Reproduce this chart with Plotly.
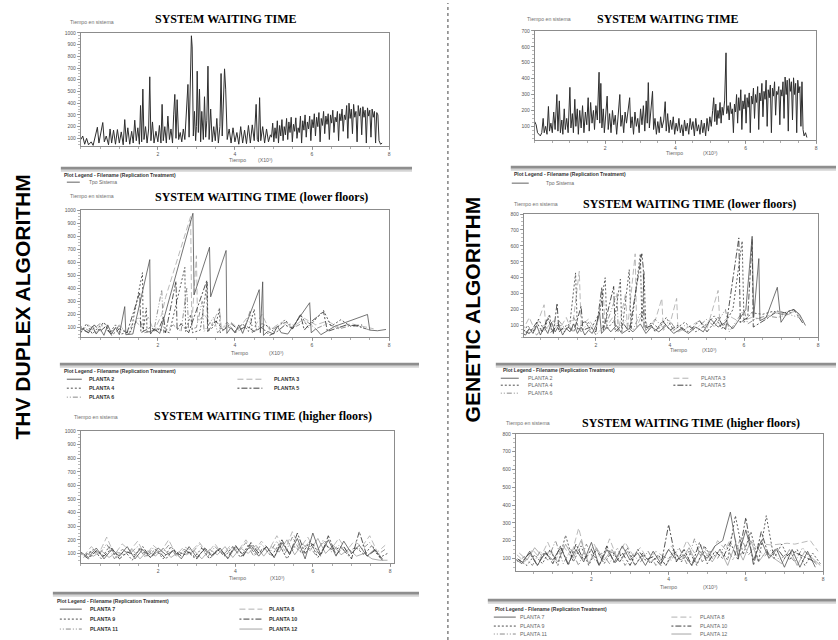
import plotly.graph_objects as go

W, H = 838, 640

# ---------------- DATA (x in thousands of time units, y = Tiempo en sistema) ----------------
THV_SYS = [(0.0,90),(0.05,120),(0.1,50),(0.15,100),(0.2,45),(0.27,70),(0.32,40),(0.38,140),(0.43,195),(0.47,60),
 (0.52,160),(0.57,235),(0.61,70),(0.66,120),(0.72,45),(0.76,180),(0.8,60),(0.85,170),(0.9,50),(0.95,175),
 (1.0,60),(1.05,155),(1.1,45),(1.14,260),(1.18,70),(1.22,190),(1.27,50),(1.32,160),(1.36,60),(1.4,255),
 (1.44,80),(1.48,190),(1.52,50),(1.55,380),(1.58,70),(1.61,520),(1.64,90),(1.68,200),(1.72,60),(1.76,180),
 (1.79,625),(1.82,80),(1.86,240),(1.9,60),(1.95,160),(2.0,70),(2.04,210),(2.08,60),(2.11,390),(2.14,80),
 (2.18,200),(2.22,60),(2.26,290),(2.3,90),(2.34,180),(2.38,60),(2.41,300),(2.44,475),(2.47,100),(2.5,430),
 (2.54,90),(2.58,150),(2.62,70),(2.66,180),(2.7,90),(2.78,560),(2.81,110),(2.87,975),(2.89,880),(2.92,120),
 (2.95,330),(2.98,80),(3.0,200),(3.02,673),(3.05,150),(3.08,520),(3.11,70),(3.14,330),(3.18,90),(3.21,455),
 (3.24,110),(3.27,250),(3.3,716),(3.33,90),(3.37,350),(3.41,70),(3.45,200),(3.49,80),(3.53,270),(3.57,60),
 (3.61,200),(3.64,653),(3.67,120),(3.73,693),(3.76,520),(3.8,90),(3.85,180),(3.9,60),(3.95,190),(4.0,70),
 (4.05,150),(4.1,50),(4.15,200),(4.2,60),(4.25,170),(4.3,55),(4.35,210),(4.4,60),(4.45,215),(4.5,80),
 (4.55,390),(4.58,90),(4.61,70),(4.64,447),(4.67,80),(4.72,200),(4.77,60),(4.82,180),(4.87,70),(4.92,130),
 (4.95,110),(4.98,230),(5.01,70),(5.04,190),(5.07,100),(5.1,250),(5.13,60),(5.16,210),(5.19,120),(5.22,260),
 (5.25,80),(5.28,200),(5.31,130),(5.34,270),(5.37,90),(5.4,240),(5.43,150),(5.46,280),(5.49,70),(5.52,220),
 (5.55,160),(5.58,275),(5.61,100),(5.64,190),(5.67,150),(5.7,290),(5.73,60),(5.76,250),(5.79,170),(5.82,300),
 (5.85,110),(5.88,240),(5.91,180),(5.94,290),(5.97,80),(6.0,260),(6.03,190),(6.06,310),(6.09,120),(6.12,280),
 (6.15,200),(6.18,320),(6.21,70),(6.24,270),(6.27,210),(6.3,330),(6.33,140),(6.36,290),(6.39,220),(6.42,310),
 (6.45,90),(6.48,300),(6.51,230),(6.54,340),(6.57,150),(6.6,280),(6.63,240),(6.66,330),(6.69,80),(6.72,310),
 (6.75,250),(6.78,350),(6.81,160),(6.84,300),(6.87,260),(6.9,380),(6.93,100),(6.96,400),(6.99,270),(7.02,350),
 (7.05,140),(7.08,390),(7.11,280),(7.14,330),(7.17,70),(7.2,380),(7.23,290),(7.26,360),(7.29,130),(7.32,370),
 (7.35,280),(7.38,340),(7.41,60),(7.44,360),(7.47,290),(7.5,340),(7.53,110),(7.56,350),(7.59,280),(7.62,330),
 (7.65,60),(7.68,320),(7.71,300),(7.74,80),(7.78,50),(7.82,60)]

GA_SYS = [(0.0,130),(0.04,110),(0.08,60),(0.12,50),(0.16,40),(0.2,60),(0.24,150),(0.27,60),(0.31,100),(0.35,50),
 (0.39,225),(0.42,70),(0.46,120),(0.5,60),(0.54,190),(0.58,80),(0.63,300),(0.66,70),(0.7,260),(0.73,60),
 (0.77,140),(0.8,50),(0.84,210),(0.87,80),(0.91,150),(0.95,60),(1.0,345),(1.03,90),(1.07,180),(1.1,60),
 (1.14,270),(1.17,100),(1.21,210),(1.24,50),(1.28,200),(1.32,90),(1.36,230),(1.4,60),(1.44,190),(1.48,110),
 (1.52,280),(1.55,70),(1.59,250),(1.63,120),(1.67,200),(1.7,80),(1.74,230),(1.78,140),(1.83,440),(1.85,120),
 (1.88,370),(1.91,90),(1.95,210),(1.98,60),(2.02,160),(2.06,290),(2.09,80),(2.13,180),(2.17,60),(2.21,200),
 (2.25,110),(2.29,170),(2.33,50),(2.38,230),(2.42,300),(2.45,100),(2.49,170),(2.53,60),(2.57,190),(2.61,120),
 (2.66,220),(2.7,280),(2.73,90),(2.77,160),(2.81,50),(2.85,190),(2.89,100),(2.93,150),(2.97,60),(3.01,210),
 (3.05,110),(3.09,230),(3.13,70),(3.17,260),(3.2,120),(3.23,375),(3.26,90),(3.3,200),(3.35,320),(3.38,80),
 (3.42,150),(3.46,50),(3.5,130),(3.54,60),(3.58,160),(3.62,90),(3.67,140),(3.71,255),(3.74,70),(3.78,180),
 (3.82,60),(3.86,140),(3.9,80),(3.94,160),(3.98,50),(4.02,120),(4.06,70),(4.1,150),(4.14,60),(4.18,110),
 (4.22,40),(4.26,140),(4.3,70),(4.34,120),(4.38,50),(4.42,150),(4.46,80),(4.5,130),(4.54,40),(4.58,150),
 (4.62,70),(4.66,110),(4.7,50),(4.74,140),(4.78,60),(4.82,120),(4.86,40),(4.9,150),(4.94,70),(4.98,160),
 (5.02,100),(5.06,200),(5.09,280),(5.12,130),(5.15,240),(5.18,110),(5.21,200),(5.24,150),(5.27,250),(5.3,120),
 (5.33,220),(5.36,170),(5.4,260),(5.44,562),(5.46,180),(5.5,230),(5.53,140),(5.56,250),(5.59,180),(5.62,210),
 (5.65,60),(5.68,240),(5.71,190),(5.74,300),(5.77,120),(5.8,280),(5.83,200),(5.86,330),(5.89,80),(5.92,260),
 (5.95,210),(5.98,300),(6.01,120),(6.04,280),(6.07,220),(6.1,310),(6.13,60),(6.16,290),(6.19,240),(6.22,340),
 (6.25,150),(6.28,300),(6.31,250),(6.34,350),(6.37,80),(6.4,310),(6.43,260),(6.46,370),(6.49,160),(6.52,320),
 (6.55,270),(6.58,390),(6.61,100),(6.64,330),(6.67,280),(6.7,360),(6.73,60),(6.76,340),(6.79,290),(6.82,380),
 (6.85,170),(6.88,320),(6.91,300),(6.94,350),(6.97,110),(7.0,330),(7.03,290),(7.06,380),(7.09,150),(7.12,410),
 (7.15,300),(7.18,390),(7.21,70),(7.24,400),(7.27,320),(7.3,380),(7.33,140),(7.36,405),(7.39,300),(7.42,370),
 (7.45,60),(7.48,390),(7.51,310),(7.54,350),(7.57,100),(7.6,380),(7.63,80),(7.66,40),(7.7,60),(7.74,30)]

# THV lower floors (PLANTA 2..6)
THV_P2 = [(0.0,100),(0.1,80),(0.2,60),(0.3,110),(0.4,50),(0.5,90),(0.6,40),(0.7,120),(0.8,50),(0.9,100),(1.0,45),
 (1.14,260),(1.17,45),(1.35,50),(1.79,620),(1.81,50),(1.9,90),(2.05,55),(2.91,975),(2.94,350),(3.34,715),(3.37,335),
 (3.77,690),(3.79,55),(3.9,100),(4.0,60),(4.1,120),(4.2,55),(4.63,390),(4.66,60),(4.72,450),(4.74,40),(4.85,70),
 (5.0,50),(5.1,110),(5.2,60),(5.37,50),(5.94,290),(5.98,60),(6.1,90),(6.23,45),(6.6,110),(7.0,150),(7.44,200),
 (7.5,80),(7.7,75),(7.92,85)]
THV_P3 = [(0.0,70),(0.2,120),(0.4,60),(0.6,140),(0.8,70),(1.0,120),(1.2,60),(1.4,150),(1.6,100),(1.75,180),(1.9,70),
 (2.1,200),(2.2,330),(2.85,950),(2.88,120),(3.0,650),(3.03,140),(3.2,200),(3.4,120),(3.6,250),(3.65,90),(3.9,140),
 (4.1,90),(4.3,170),(4.5,100),(4.7,200),(4.9,80),(5.2,140),(5.5,100),(5.8,170),(6.1,120),(6.4,150),(6.7,100),
 (7.0,130),(7.3,110),(7.6,90)]
THV_P4 = [(0.0,60),(0.15,130),(0.3,50),(0.45,100),(0.6,140),(0.75,60),(0.9,120),(1.05,50),(1.3,70),(1.6,520),(1.62,80),
 (1.7,250),(1.72,60),(2.0,90),(2.3,60),(2.7,560),(2.72,70),(2.85,200),(2.9,60),(3.1,80),(3.28,450),(3.3,70),(3.5,120),
 (3.6,240),(3.62,60),(3.8,110),(4.0,70),(4.2,130),(4.35,70),(4.5,240),(4.55,80),(4.8,120),(5.0,70),(5.3,160),(5.5,90),
 (5.7,200),(5.9,100),(6.3,230),(6.5,110),(6.75,160),(7.0,110),(7.3,120)]
THV_P5 = [(0.0,90),(0.2,60),(0.35,120),(0.5,70),(0.65,110),(0.8,40),(1.0,90),(1.2,60),(1.53,370),(1.56,60),(1.8,100),
 (2.0,70),(2.15,180),(2.2,60),(2.47,455),(2.5,80),(2.6,130),(2.8,60),(3.27,460),(3.29,70),(3.5,150),(3.7,80),(3.9,130),
 (4.1,80),(4.3,110),(4.5,70),(4.7,100),(4.9,40),(5.1,70),(5.3,120),(5.5,90),(5.7,200),(5.8,80),(6.0,150),(6.3,220),
 (6.4,70),(6.6,90),(6.9,120),(7.2,110),(7.4,90)]
THV_P6 = [(0.0,110),(0.25,70),(0.5,130),(0.75,60),(1.0,110),(1.25,50),(1.5,180),(1.65,60),(1.9,80),(2.1,390),(2.15,60),
 (2.4,120),(2.6,70),(2.75,400),(2.8,80),(3.0,100),(3.15,300),(3.2,70),(3.45,180),(3.55,60),(3.8,140),(4.0,60),(4.25,100),
 (4.4,230),(4.45,60),(4.7,130),(5.0,90),(5.3,140),(5.6,110),(5.85,150),(6.1,90),(6.4,130),(6.7,90),(7.1,120),(7.5,80)]

# GA lower floors (PLANTA 2..6)
GA_P2 = [(0.0,50),(0.1,40),(0.2,80),(0.3,50),(0.4,100),(0.5,40),(0.6,90),(0.7,50),(0.8,120),(0.9,60),(1.0,100),(1.1,40),
 (1.2,80),(1.3,60),(1.4,110),(1.5,50),(1.6,90),(1.7,40),(1.8,70),(1.9,50),(2.0,100),(2.1,180),(2.15,50),(2.3,90),(2.4,60),
 (2.55,100),(2.7,50),(2.9,80),(3.0,60),(3.2,110),(3.35,50),(3.5,90),(3.7,60),(3.9,100),(4.1,50),(4.3,80),(4.5,50),(4.7,90),
 (4.9,60),(5.1,140),(5.3,90),(5.5,120),(5.7,80),(5.9,150),(6.05,200),(6.22,660),(6.26,150),(6.4,520),(6.43,130),(6.6,150),
 (6.9,340),(7.0,120),(7.2,190),(7.35,200),(7.5,170),(7.66,100)]
GA_P3 = [(0.0,60),(0.2,150),(0.35,70),(0.5,170),(0.6,230),(0.65,80),(0.85,130),(1.0,70),(1.2,150),(1.35,60),(1.55,440),
 (1.6,100),(1.8,140),(2.0,70),(2.2,300),(2.25,80),(2.45,150),(2.6,60),(2.8,300),(2.85,70),(3.06,550),(3.1,90),(3.3,200),
 (3.4,70),(3.6,130),(3.78,270),(3.82,70),(4.0,110),(4.18,270),(4.22,60),(4.5,90),(4.8,130),(5.0,80),(5.3,320),(5.35,100),
 (5.6,160),(5.9,120),(6.2,150),(6.5,140),(6.8,180),(7.1,170),(7.4,190),(7.6,130)]
GA_P4 = [(0.0,40),(0.15,100),(0.3,60),(0.45,140),(0.6,70),(0.75,170),(0.8,60),(1.0,110),(1.15,60),(1.3,120),(1.45,430),
 (1.5,70),(1.7,130),(1.85,70),(2.1,180),(2.25,400),(2.3,80),(2.5,130),(2.66,390),(2.7,60),(2.9,450),(2.95,80),(3.2,550),
 (3.24,120),(3.3,440),(3.35,70),(3.5,120),(3.7,80),(3.9,150),(4.1,70),(4.4,120),(4.7,60),(5.0,110),(5.2,160),(5.4,80),
 (5.7,200),(5.95,630),(6.0,120),(6.2,180),(6.5,170),(6.8,190),(7.0,170),(7.3,180)]
GA_P5 = [(0.0,70),(0.2,50),(0.4,120),(0.55,60),(0.7,150),(0.85,50),(0.95,240),(1.0,60),(1.2,100),(1.4,60),(1.6,220),
 (1.65,70),(1.85,90),(2.0,60),(2.16,340),(2.2,70),(2.48,345),(2.52,60),(2.75,110),(2.9,60),(3.24,550),(3.28,460),(3.3,80),
 (3.5,100),(3.6,60),(3.8,130),(4.0,70),(4.2,100),(4.5,60),(4.8,130),(5.0,60),(5.3,150),(5.5,70),(5.86,650),(5.9,120),
 (6.1,150),(6.22,640),(6.25,90),(6.6,140),(6.9,190),(7.1,180),(7.35,200),(7.6,110)]
GA_P6 = [(0.0,30),(0.2,80),(0.4,40),(0.6,100),(0.8,50),(1.0,130),(1.2,70),(1.4,150),(1.6,60),(1.8,120),(2.0,40),(2.3,120),
 (2.57,300),(2.6,80),(2.8,130),(3.0,70),(3.2,180),(3.4,80),(3.6,140),(3.8,90),(4.0,130),(4.2,60),(4.4,100),(4.7,80),
 (5.0,140),(5.2,90),(5.5,200),(5.6,60),(5.8,130),(6.0,200),(6.1,110),(6.3,140),(6.6,160),(6.9,150),(7.2,170),(7.5,150)]

# higher floors: sample times
XA = [0.0,0.2,0.4,0.6,0.8,1.0,1.2,1.4,1.6,1.8,2.0,2.2,2.4,2.6,2.8,3.0,3.2,3.4,3.6,3.8,
      4.0,4.2,4.4,4.6,4.8,5.0,5.2,5.4,5.6,5.8,6.0,6.2,6.4,6.6,6.8,7.0,7.2,7.4,7.6,7.8]
XB = [0.07,0.27,0.47,0.67,0.87,1.07,1.27,1.47,1.67,1.87,2.07,2.27,2.47,2.67,2.87,3.07,3.27,3.47,3.67,3.87,
      4.07,4.27,4.47,4.67,4.87,5.07,5.27,5.47,5.67,5.87,6.07,6.27,6.47,6.67,6.87,7.07,7.27,7.47,7.67,7.87]
XC = [0.13,0.33,0.53,0.73,0.93,1.13,1.33,1.53,1.73,1.93,2.13,2.33,2.53,2.73,2.93,3.13,3.33,3.53,3.73,3.93,
      4.13,4.33,4.53,4.73,4.93,5.13,5.33,5.53,5.73,5.93,6.13,6.33,6.53,6.73,6.93,7.13,7.33,7.53,7.73,7.93]

THV_P7 = [110,70,140,60,130,80,150,60,130,70,140,90,120,60,150,70,130,80,140,60,150,90,160,80,150,70,180,100,210,60,250,90,200,80,190,100,160,80,130,60]
THV_P8 = [80,150,100,220,90,170,120,190,80,160,110,200,90,150,120,180,100,170,90,160,120,200,110,190,130,230,120,260,140,220,110,180,130,210,120,190,150,230,110,160]
THV_P9 = [90,130,60,150,70,120,50,140,80,130,60,150,90,120,70,140,60,130,80,150,70,160,90,140,80,170,60,150,100,190,70,160,120,150,80,140,90,160,70,100]
THV_P10 = [100,60,120,80,140,60,110,90,150,70,120,60,130,80,110,60,140,90,130,70,160,80,180,100,150,70,200,90,250,100,170,80,230,90,150,60,260,80,120,50]
THV_P11 = [70,110,90,170,60,130,100,150,70,140,90,160,80,130,100,170,70,150,90,140,110,180,80,170,100,190,90,220,120,170,90,200,110,160,100,140,130,180,90,130]
THV_P12 = [100,80,120,70,110,90,130,60,120,80,140,70,110,90,120,60,130,90,150,70,140,100,160,80,150,110,200,90,170,120,210,100,160,90,130,80,100,60,50,50]

GA_P7 = [100,70,140,60,130,90,160,70,150,80,190,60,150,80,170,90,130,60,140,70,150,90,120,60,140,100,170,200,360,110,260,90,200,100,150,50,150,50,140,50]
GA_P8 = [120,80,150,100,190,90,170,110,270,100,180,90,210,100,190,120,160,90,140,110,170,100,200,130,180,110,200,150,240,120,200,180,180,175,180,185,180,190,200,140]
GA_P9 = [90,60,120,70,150,60,230,80,170,60,150,70,140,80,160,60,130,70,120,60,150,80,140,60,170,100,150,90,340,120,250,80,340,100,180,90,150,60,130,70]
GA_P10 = [110,80,130,60,140,70,170,60,180,90,150,60,170,70,130,60,150,90,110,60,290,80,150,60,190,70,140,100,190,90,330,60,250,110,160,100,140,120,100,80]
GA_P11 = [80,110,60,140,90,200,70,150,60,180,90,130,70,160,60,120,80,140,60,110,90,160,70,210,80,140,100,180,90,220,120,170,110,150,90,130,80,160,100,60]
GA_P12 = [130,90,160,110,140,80,180,100,200,70,160,90,150,80,140,60,120,80,110,60,130,90,160,70,140,80,150,60,180,90,200,80,140,100,70,150,60,140,100,60]

X_TICKS = [2, 4, 6, 8]
TITLES = ["SYSTEM WAITING TIME", "SYSTEM WAITING TIME (lower floors)", "SYSTEM WAITING TIME (higher floors)"]
LOWER_NAMES = ["PLANTA 2", "PLANTA 3", "PLANTA 4", "PLANTA 5", "PLANTA 6"]
HIGHER_NAMES = ["PLANTA 7", "PLANTA 8", "PLANTA 9", "PLANTA 10", "PLANTA 11", "PLANTA 12"]

# ---------------- helpers ----------------
def fx(px):
    return px / W

def fy(py):
    return 1 - py / H

SANS = "Liberation Sans, Arial, sans-serif"
SERIF = "Liberation Serif, Times New Roman, serif"

STYLES = {
    "s": dict(color="#505050", dash="solid"),
    "ld": dict(color="#a8a8a8", dash="6px,3px"),
    "dot": dict(color="#3a3a3a", dash="2px,2px"),
    "dd": dict(color="#2a2a2a", dash="2px,2px,6px,2px"),
    "dld": dict(color="#7a7a7a", dash="1px,2px,1px,2px,5px,2px"),
    "s2": dict(color="#9a9a9a", dash="solid"),
}

# panel geometry (pixel frame) and ranges
PANELS = {
    1: dict(px=(81, 390), py=(30, 144), xr=[0, 8], yr=[32, 1000], ymax=1000),
    2: dict(px=(81, 390), py=(208, 336), xr=[0, 8], yr=[24, 1000], ymax=1000),
    3: dict(px=(81, 395), py=(430, 563), xr=[0, 8.1], yr=[27, 1000], ymax=1000),
    4: dict(px=(536, 818), py=(28, 138), xr=[0, 8], yr=[12, 700], ymax=700),
    5: dict(px=(525, 820), py=(212, 336), xr=[0.05, 8], yr=[25, 800], ymax=800),
    6: dict(px=(517, 825), py=(433, 571), xr=[0.04, 8], yr=[27, 800], ymax=800),
}

fig = go.Figure()

def ax_names(i):
    s = "" if i == 1 else str(i)
    return "x" + s, "y" + s

def add_pairs(pairs, panel, style, width=0.8):
    xa, ya = ax_names(panel)
    st = STYLES[style]
    fig.add_trace(go.Scatter(x=[p[0] for p in pairs], y=[p[1] for p in pairs], mode="lines",
                             line=dict(color=st["color"], dash=st["dash"], width=width),
                             xaxis=xa, yaxis=ya, showlegend=False, hoverinfo="skip"))

def add_xy(xs, ys, panel, style, width=0.8):
    xa, ya = ax_names(panel)
    st = STYLES[style]
    fig.add_trace(go.Scatter(x=xs, y=ys, mode="lines",
                             line=dict(color=st["color"], dash=st["dash"], width=width),
                             xaxis=xa, yaxis=ya, showlegend=False, hoverinfo="skip"))

# top panels
fig.add_trace(go.Scatter(x=[p[0] for p in THV_SYS], y=[p[1] for p in THV_SYS], mode="lines",
                         line=dict(color="#2e2e2e", width=1.0), xaxis="x", yaxis="y",
                         showlegend=False, hoverinfo="skip"))
fig.add_trace(go.Scatter(x=[p[0] for p in GA_SYS], y=[p[1] for p in GA_SYS], mode="lines",
                         line=dict(color="#2e2e2e", width=1.0), xaxis="x4", yaxis="y4",
                         showlegend=False, hoverinfo="skip"))

# lower floors
for data, st in [(THV_P3, "ld"), (THV_P6, "dld"), (THV_P4, "dot"), (THV_P5, "dd"), (THV_P2, "s")]:
    add_pairs(data, 2, st)
for data, st in [(GA_P3, "ld"), (GA_P6, "dld"), (GA_P4, "dot"), (GA_P5, "dd"), (GA_P2, "s")]:
    add_pairs(data, 5, st)

# higher floors
for xs, ys, st in [(XB, THV_P8, "ld"), (XB, THV_P11, "dld"), (XC, THV_P12, "s2"), (XC, THV_P9, "dot"),
                   (XA, THV_P10, "dd"), (XA, THV_P7, "s")]:
    add_xy(xs, ys, 3, st)
for xs, ys, st in [(XB, GA_P8, "ld"), (XB, GA_P11, "dld"), (XC, GA_P12, "s2"), (XC, GA_P9, "dot"),
                   (XA, GA_P10, "dd"), (XA, GA_P7, "s")]:
    add_xy(xs, ys, 6, st)

layout = dict(width=W, height=H, margin=dict(l=0, r=0, t=0, b=0), autosize=False,
              paper_bgcolor="white", plot_bgcolor="white", showlegend=False)

for i, p in PANELS.items():
    s = "" if i == 1 else str(i)
    layout["xaxis" + s] = dict(
        domain=[fx(p["px"][0]), fx(p["px"][1])], anchor="y" + s, range=p["xr"],
        tickvals=X_TICKS, ticktext=[str(v) for v in X_TICKS], ticks="outside", ticklen=3,
        tickcolor="#888", tickwidth=0.8, tickfont=dict(family=SANS, size=5, color="#555"),
        showline=True, linecolor="#8c8c8c", linewidth=1, mirror=True, showgrid=False, zeroline=False,
        minor=dict(dtick=0.5, ticks="outside", ticklen=2, tickcolor="#999"), fixedrange=True)
    yt = list(range(100, p["ymax"] + 1, 100))
    layout["yaxis" + s] = dict(
        domain=[fy(p["py"][1]), fy(p["py"][0])], anchor="x" + s, range=p["yr"],
        tickvals=yt, ticktext=[str(v) for v in yt], ticks="outside", ticklen=3,
        tickcolor="#888", tickwidth=0.8, tickfont=dict(family=SANS, size=5, color="#555"),
        showline=True, linecolor="#8c8c8c", linewidth=1, mirror=True, showgrid=False, zeroline=False,
        minor=dict(dtick=25, ticks="outside", ticklen=1.5, tickcolor="#aaa"), fixedrange=True)

annotations = []
shapes = []

def text(px, py, t, size=5.5, color="#666", family=SANS, anchor="center", bold=False, angle=0):
    annotations.append(dict(x=fx(px), y=fy(py), xref="paper", yref="paper", text=("<b>%s</b>" % t) if bold else t,
                            showarrow=False, xanchor=anchor, yanchor="middle", textangle=angle,
                            font=dict(family=family, size=size, color=color)))

# titles
for (cx, cy), t in [((227, 16), TITLES[0]), ((262, 195), TITLES[1]), ((264, 415), TITLES[2]),
                    ((670, 16), TITLES[0]), ((691, 202), TITLES[1]), ((693, 422), TITLES[2])]:
    text(cx, cy, t, size=12, color="#000", family=SERIF, bold=True)

# y labels "Tiempo en sistema"
for cx, cy in [(92, 19), (92, 194), (96, 416), (550, 16), (537, 202), (529, 422)]:
    text(cx, cy, "Tiempo en sistema", size=5.2, color="#707070")

# x labels
for tx, ux, cy in [(238, 266, 158), (240, 277, 352), (238, 278, 578),
                   (676, 712, 151), (680, 711, 349), (670, 712, 587)]:
    text(tx, cy, "Tiempo", size=5.2, color="#666")
    text(ux, cy, "(X10\u00b3)", size=5.2, color="#666")

# big side labels
text(23, 305, "THV DUPLEX ALGORITHM", size=21, color="#000", bold=True, angle=-90)
text(474, 308, "GENETIC ALGORITHM", size=21, color="#000", bold=True, angle=-90)

# divider
shapes.append(dict(type="line", xref="paper", yref="paper", x0=fx(449), x1=fx(449), y0=0, y1=1,
                   line=dict(color="#444", width=1, dash="dot")))

def legend_bar(x0, x1, y):
    shapes.append(dict(type="rect", xref="paper", yref="paper", x0=fx(x0), x1=fx(x1), y0=fy(y + 1.5), y1=fy(y - 1.5),
                       fillcolor="#8e8e8e", line=dict(width=0)))
    shapes.append(dict(type="rect", xref="paper", yref="paper", x0=fx(x0), x1=fx(x1), y0=fy(y + 3.5), y1=fy(y + 1.5),
                       fillcolor="#d4d4d4", line=dict(width=0)))

def sample(x0, x1, y, style):
    st = STYLES[style]
    shapes.append(dict(type="line", xref="paper", yref="paper", x0=fx(x0), x1=fx(x1), y0=fy(y), y1=fy(y),
                       line=dict(color=st["color"], width=0.9, dash=st["dash"])))

HEAD = "Plot Legend - Filename (Replication Treatment)"

# top legends
legend_bar(61, 413, 166)
text(62, 173, HEAD, size=5, color="#333", anchor="left", bold=True)
sample(67, 80, 180, "s")
text(87, 180, "Tpo Sistema", size=5, color="#666", anchor="left")

legend_bar(512, 838, 165)
text(513, 172, HEAD, size=5, color="#333", anchor="left", bold=True)
sample(513, 530, 181, "s")
text(545, 181, "Tpo Sistema", size=5, color="#666", anchor="left")

LOWER_STYLES = ["s", "ld", "dot", "dd", "dld"]
HIGHER_STYLES = ["s", "ld", "dot", "dd", "dld", "s2"]

def planta_legend(bar_x0, bar_y, head_x, head_y, rows, c1, c2, names, styles, bold, color):
    legend_bar(bar_x0, 838 if bar_x0 > 440 else 420, bar_y)
    text(head_x, head_y, HEAD, size=5, color="#333", anchor="left", bold=True)
    for k, (nm, st) in enumerate(zip(names, styles)):
        col = c1 if k % 2 == 0 else c2
        row = rows[k // 2]
        sample(col[0], col[1], row, st)
        text(col[2], row, nm, size=5.3, color=color, anchor="left", bold=bold)

planta_legend(60, 363, 62, 370, [378, 387, 396], (67, 82, 87), (238, 263, 273), LOWER_NAMES, LOWER_STYLES, True, "#333")
planta_legend(53, 593, 55, 601, [609, 619, 629], (60, 82, 88), (240, 263, 268), HIGHER_NAMES, HIGHER_STYLES, True, "#333")
planta_legend(497, 363, 502, 369, [377, 384, 392], (502, 520, 527), (675, 693, 701), LOWER_NAMES, LOWER_STYLES, False, "#666")
planta_legend(489, 600, 494, 609, [617, 626, 634], (495, 517, 519), (673, 693, 700), HIGHER_NAMES, HIGHER_STYLES, False, "#666")

layout["annotations"] = annotations
layout["shapes"] = shapes
fig.update_layout(**layout)
fig.write_html("out.html", config={"displayModeBar": False, "staticPlot": True},
               post_script="document.body.style.margin='0';document.body.style.overflow='hidden';")
